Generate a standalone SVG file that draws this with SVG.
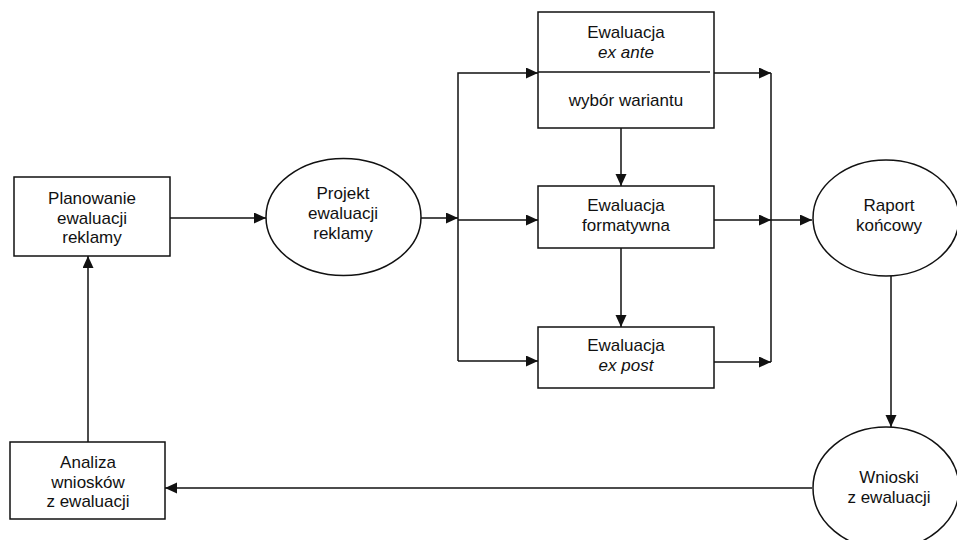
<svg xmlns="http://www.w3.org/2000/svg" width="957" height="540" viewBox="0 0 957 540">
<defs>
<marker id="arr" markerUnits="userSpaceOnUse" markerWidth="13" markerHeight="12" refX="12" refY="5.5" orient="auto">
<path d="M0,0 L12,5.5 L0,11 z" fill="#111"/>
</marker>
<style>
.box{fill:#fff;stroke:#111;stroke-width:1.5}
.t{font-family:"Liberation Sans",Arial,sans-serif;font-size:17px;fill:#111;text-anchor:middle}
.i{font-style:italic}
.c{fill:none;stroke:#111;stroke-width:1.5}
.a{marker-end:url(#arr)}
</style>
</defs>
<rect width="957" height="540" fill="#fff"/>
<g id="connectors">
<path class="c a" d="M170,218 H266"/>
<path class="c a" d="M421,218 H458"/>
<path class="c a" d="M458,361 V73 H538"/>
<path class="c a" d="M458,220 H538"/>
<path class="c a" d="M458,361 H538"/>
<path class="c a" d="M714,73 H771"/>
<path class="c a" d="M714,220 H771"/>
<path class="c a" d="M714,362 H771"/>
<path class="c" d="M771,73 V362"/>
<path class="c a" d="M771,220 H812"/>
<path class="c a" d="M621,128 V186"/>
<path class="c a" d="M621,248 V327"/>
<path class="c a" d="M891,276 V427"/>
<path class="c a" d="M812,488 H165"/>
<path class="c a" d="M88,442 V256"/>
</g>
<g id="planowanie">
<rect class="box" x="14" y="177" width="156" height="79"/>
<text class="t" x="92" y="204">Planowanie</text>
<text class="t" x="92" y="224">ewaluacji</text>
<text class="t" x="92" y="243">reklamy</text>
</g>
<g id="projekt">
<ellipse class="box" cx="343.5" cy="217" rx="77.5" ry="58.5"/>
<text class="t" x="343" y="199">Projekt</text>
<text class="t" x="343" y="219">ewaluacji</text>
<text class="t" x="343" y="239">reklamy</text>
</g>
<g id="ex-ante">
<rect class="box" x="538" y="12" width="176" height="116"/>
<path class="c" d="M538,72 H710"/>
<text class="t" x="626" y="38">Ewaluacja</text>
<text class="t i" x="626" y="58">ex ante</text>
<text class="t" x="626" y="106">wybór wariantu</text>
</g>
<g id="formatywna">
<rect class="box" x="538" y="186" width="176" height="62"/>
<text class="t" x="626" y="211">Ewaluacja</text>
<text class="t" x="626" y="231">formatywna</text>
</g>
<g id="ex-post">
<rect class="box" x="538" y="327" width="176" height="61"/>
<text class="t" x="626" y="351">Ewaluacja</text>
<text class="t i" x="626" y="371">ex post</text>
</g>
<g id="raport">
<ellipse class="box" cx="886" cy="218" rx="73" ry="58"/>
<text class="t" x="889" y="211">Raport</text>
<text class="t" x="889" y="231">końcowy</text>
</g>
<g id="wnioski">
<ellipse class="box" cx="886" cy="488" rx="73" ry="61"/>
<text class="t" x="889" y="483">Wnioski</text>
<text class="t" x="889" y="503">z ewaluacji</text>
</g>
<g id="analiza">
<rect class="box" x="10" y="442" width="155" height="77"/>
<text class="t" x="88" y="468">Analiza</text>
<text class="t" x="88" y="488">wniosków</text>
<text class="t" x="88" y="507">z ewaluacji</text>
</g>
</svg>
